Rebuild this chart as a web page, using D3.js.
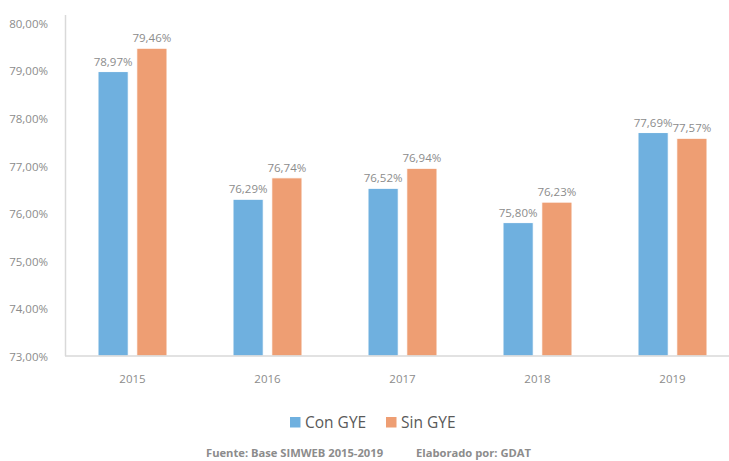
<!DOCTYPE html>
<html><head><meta charset="utf-8">
<script src="https://cdn.jsdelivr.net/npm/d3@7"></script>
<style>body{margin:0;background:#fff}svg{display:block}</style>
</head><body>
<svg id="c" width="729" height="461"></svg>
<script>
const years = ["2015","2016","2017","2018","2019"];
const conGYE = [78.97, 76.29, 76.52, 75.80, 77.69];
const sinGYE = [79.46, 76.74, 76.94, 76.23, 77.57];
const yTicks = [73,74,75,76,77,78,79,80];
const seriesNames = ["Con GYE","Sin GYE"];
const colors = ["#6FB0DF","#EE9E73"];

const svg = d3.select("#c");
const font = "'Open Sans', 'Liberation Sans', sans-serif";
const fmt = v => v.toFixed(2).replace(".", ",") + "%";

const x = d3.scaleBand().domain(years).range([65, 740]).paddingInner(0).paddingOuter(0);
const y = d3.scaleLinear().domain([73, 80]).range([356, 22.5]);
const xs = d3.scaleBand().domain([0,1]).range([-34.5, 34.5]).paddingInner(0.22).paddingOuter(0);

// y axis
const ya = svg.append("g").attr("transform","translate(65,0)")
  .call(d3.axisLeft(y).tickValues(yTicks).tickSize(0).tickPadding(17).tickFormat(fmt));
ya.select(".domain").remove();
ya.selectAll("text").attr("font-family",font).attr("font-size",11.5).attr("fill","#8c8c8c").attr("dy","0.4em");
svg.append("line").attr("x1",65.5).attr("x2",65.5).attr("y1",15).attr("y2",y(73)).attr("stroke","#d9d9d9").attr("stroke-width",1.5);

// bars
const series = [conGYE, sinGYE];
series.forEach((vals, si) => {
  const g = svg.append("g");
  g.selectAll("rect").data(vals).join("rect")
    .attr("x",(d,i)=>x(years[i]) + x.bandwidth()/2 + xs(si))
    .attr("width", xs.bandwidth())
    .attr("y", d=>y(d))
    .attr("height", d=>y(73)-y(d))
    .attr("fill", colors[si])
    .attr("stroke","#fff").attr("stroke-width",1);
  g.selectAll("text").data(vals).join("text")
    .attr("x",(d,i)=>x(years[i]) + x.bandwidth()/2 + xs(si) + xs.bandwidth()/2)
    .attr("y", d=>y(d)-6)
    .attr("text-anchor","middle")
    .attr("font-family",font).attr("font-size",11.5).attr("fill","#8c8c8c")
    .text(d=>fmt(d));
});

// x axis
svg.append("line").attr("x1",65).attr("x2",729).attr("y1",y(73)).attr("y2",y(73)).attr("stroke","#d9d9d9").attr("stroke-width",1.5);
const xa = svg.append("g").attr("transform",`translate(0,${y(73)})`)
  .call(d3.axisBottom(x).tickSize(0).tickPadding(19));
xa.select(".domain").remove();
xa.selectAll("text").attr("font-family",font).attr("font-size",11.5).attr("fill","#8c8c8c");

// legend
const leg = [{x:290, tx:305},{x:386, tx:401}];
seriesNames.forEach((n,i)=>{
  svg.append("rect").attr("x",leg[i].x).attr("y",417).attr("width",10.5).attr("height",10.5).attr("fill",colors[i]);
  svg.append("text").attr("x",leg[i].tx).attr("y",428).attr("font-family",font).attr("font-size",15.5).attr("fill","#595959").text(n);
});

// footer
svg.append("text").attr("x",206).attr("y",457).attr("font-family",font).attr("font-size",11.2).attr("font-weight","bold").attr("fill","#8c8c8c").text("Fuente: Base SIMWEB 2015-2019");
svg.append("text").attr("x",416).attr("y",457).attr("font-family",font).attr("font-size",11.2).attr("font-weight","bold").attr("fill","#8c8c8c").text("Elaborado por: GDAT");
</script>
</body></html>
